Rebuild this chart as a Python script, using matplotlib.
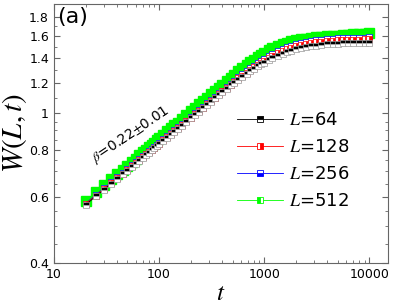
import matplotlib
matplotlib.use('Agg')
import matplotlib.pyplot as plt
from matplotlib.lines import Line2D
from matplotlib.ticker import FixedLocator, LogLocator, NullFormatter

plt.rcParams['mathtext.fontset'] = 'stix'

# time steps
t = [20, 25, 30, 35, 40, 45, 50, 55, 60, 65, 70, 75, 80, 85, 90, 95, 100,
     110, 120, 130, 140, 150, 165, 180, 200, 220, 240, 260, 285, 310, 340, 370, 400,
     440, 480, 520, 570, 620, 680, 740, 800, 870, 940, 1000,
     1100, 1200, 1350, 1500, 1650, 1800, 2000, 2250, 2500, 2800, 3100, 3500, 4000,
     4500, 5000, 5600, 6300, 7000, 8000, 9000, 10000]

# interface width W(L,t) for each L
w_64 = [0.570, 0.601, 0.626, 0.649, 0.669, 0.687, 0.704, 0.719, 0.734, 0.748, 0.760,
        0.773, 0.785, 0.796, 0.806, 0.816, 0.826,
        0.844, 0.861, 0.877, 0.893, 0.907, 0.927, 0.946, 0.968, 0.990, 1.010, 1.029,
        1.051, 1.071, 1.095, 1.116, 1.136, 1.161, 1.185, 1.205, 1.228, 1.249, 1.272,
        1.293, 1.312, 1.331, 1.348, 1.362,
        1.382, 1.400, 1.422, 1.440, 1.454, 1.465, 1.477, 1.489, 1.498, 1.506, 1.512,
        1.518, 1.523, 1.527, 1.530, 1.533, 1.535, 1.537, 1.538, 1.539, 1.540]
w_128 = [0.573, 0.604, 0.629, 0.652, 0.672, 0.690, 0.708, 0.723, 0.738, 0.752, 0.764,
         0.777, 0.789, 0.800, 0.810, 0.820, 0.830,
         0.848, 0.865, 0.881, 0.897, 0.912, 0.932, 0.951, 0.973, 0.995, 1.015, 1.034,
         1.056, 1.076, 1.100, 1.122, 1.142, 1.167, 1.191, 1.212, 1.236, 1.258, 1.282,
         1.304, 1.324, 1.345, 1.363, 1.378,
         1.400, 1.420, 1.444, 1.464, 1.480, 1.492, 1.505, 1.518, 1.528, 1.537, 1.543,
         1.549, 1.554, 1.558, 1.561, 1.564, 1.566, 1.567, 1.569, 1.570, 1.572]
w_256 = [0.575, 0.606, 0.632, 0.655, 0.675, 0.693, 0.711, 0.726, 0.741, 0.755, 0.767,
         0.780, 0.792, 0.803, 0.813, 0.824, 0.834,
         0.852, 0.869, 0.885, 0.901, 0.916, 0.936, 0.955, 0.978, 1.000, 1.020, 1.039,
         1.061, 1.082, 1.106, 1.128, 1.148, 1.174, 1.198, 1.220, 1.245, 1.268, 1.293,
         1.316, 1.337, 1.358, 1.377, 1.392,
         1.415, 1.436, 1.461, 1.482, 1.498, 1.511, 1.525, 1.538, 1.548, 1.556, 1.562,
         1.568, 1.573, 1.577, 1.580, 1.583, 1.585, 1.586, 1.587, 1.588, 1.589]
w_512 = [0.584, 0.616, 0.643, 0.667, 0.688, 0.707, 0.725, 0.741, 0.757, 0.772, 0.786,
         0.799, 0.812, 0.824, 0.835, 0.846, 0.857,
         0.876, 0.895, 0.912, 0.929, 0.944, 0.966, 0.986, 1.011, 1.034, 1.056, 1.076,
         1.099, 1.121, 1.146, 1.169, 1.190, 1.217, 1.242, 1.265, 1.292, 1.316, 1.342,
         1.366, 1.388, 1.410, 1.430, 1.446,
         1.468, 1.487, 1.510, 1.527, 1.540, 1.550, 1.561, 1.570, 1.577, 1.584, 1.589,
         1.595, 1.600, 1.604, 1.607, 1.611, 1.615, 1.618, 1.622, 1.626, 1.630]

labels = ['64', '128', '256', '512']
colors = ['black', 'red', 'blue', '#00ff00']
fills = ['top', 'right', 'bottom', 'left']

fig = plt.figure(figsize=(3.99, 3.05), dpi=100)
ax = fig.add_axes([0.135, 0.138, 0.837, 0.849])

# green goes underneath, bigger solid squares
ax.plot(t, w_512, '-s', color=colors[3], lw=0.6, ms=7, mec=colors[3], zorder=2)
ax.plot(t, w_256, '-s', color=colors[2], lw=0.6, ms=4, fillstyle='bottom',
        markerfacecoloralt='white', mew=0.5, zorder=3)
ax.plot(t, w_128, '-s', color=colors[1], lw=0.6, ms=4, fillstyle='right',
        markerfacecoloralt='white', mew=0.5, zorder=4)
ax.plot(t, w_64, '-s', color=colors[0], lw=0.6, ms=4, fillstyle='top',
        markerfacecoloralt='white', mec='#999999', mew=0.5, zorder=5)

ax.set_xscale('log')
ax.set_yscale('log')
ax.set_xlim(10, 15000)
ax.set_ylim(0.4, 1.95)

ax.xaxis.set_major_locator(FixedLocator([10, 100, 1000, 10000]))
ax.xaxis.set_minor_locator(LogLocator(base=10, subs=range(2, 10)))
ax.xaxis.set_minor_formatter(NullFormatter())
ax.set_xticklabels(['10', '100', '1000', '10000'])
yt = [0.4, 0.6, 0.8, 1.0, 1.2, 1.4, 1.6, 1.8]
ax.yaxis.set_major_locator(FixedLocator(yt))
ax.set_yticklabels(['0.4', '0.6', '0.8', '1', '1.2', '1.4', '1.6', '1.8'])
ax.yaxis.set_minor_locator(FixedLocator([0.45, 0.5, 0.55, 0.65, 0.7, 0.75, 0.85, 0.9,
                                         0.95, 1.1, 1.3, 1.5, 1.7]))
ax.yaxis.set_minor_formatter(NullFormatter())

ax.tick_params(which='both', direction='in', top=True, right=True, colors='#666666',
               labelcolor='black', labelsize=9)
ax.tick_params(which='major', length=4)
ax.tick_params(which='minor', length=2)
for s in ax.spines.values():
    s.set_color('#666666')

ax.set_xlabel('$t$', fontsize=18, labelpad=0)
ax.set_ylabel('$W(L,t)$', fontsize=21, labelpad=0)

ax.text(0.01, 0.99, '(a)', transform=ax.transAxes, fontsize=16, va='top', ha='left')
ax.text(54, 0.875, r'$\beta$=0.22$\pm$0.01', fontsize=10, rotation=34,
        ha='center', va='center', rotation_mode='anchor')

handles = [Line2D([], [], color=c, lw=0.6, marker='s', ms=5, fillstyle=f,
                  markerfacecoloralt='white', mew=0.6) for c, f in zip(colors, fills)]
ax.legend(handles, ['$L$=' + l for l in labels], loc='upper left',
          bbox_to_anchor=(0.52, 0.62), frameon=False, fontsize=13,
          handlelength=2.6, labelspacing=0.5, handletextpad=0.3, borderpad=0)

fig.savefig('out.png', dpi=100)
